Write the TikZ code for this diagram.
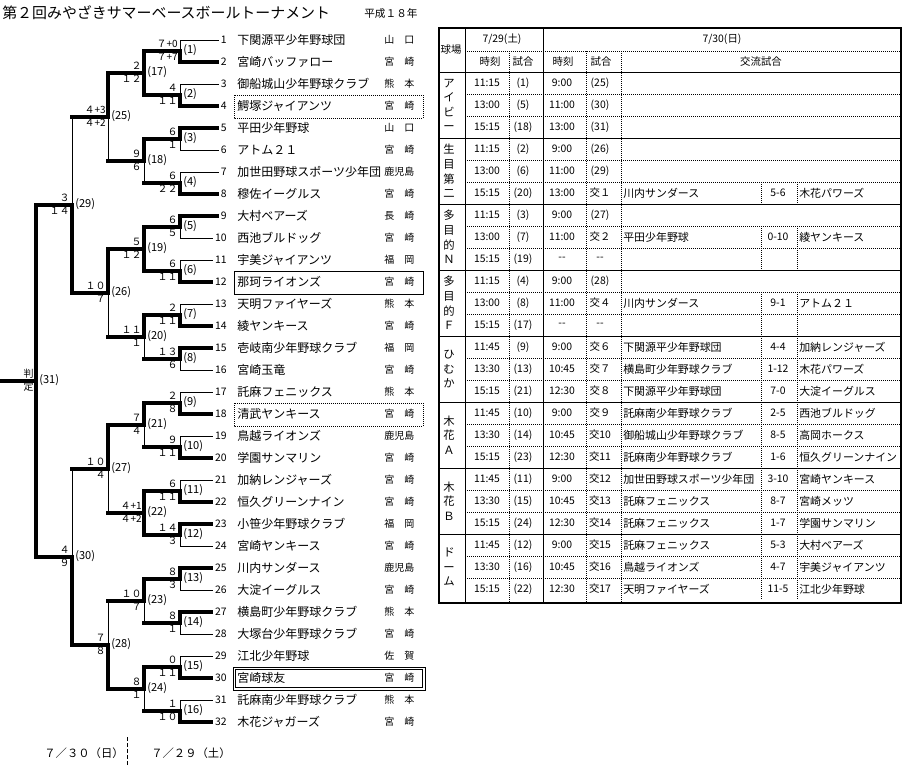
\documentclass[tikz,border=0pt]{standalone}
\usepackage{fontspec}
\setmainfont{Noto Sans CJK JP}
\newcommand\gm[8]{%
  \pgfmathsetmacro\gmM{(#2+#3)/2}%
  \draw[#4] (#1,#2) -- (#1,\gmM);
  \draw[#5] (#1,\gmM) -- (#1,#3);
  \draw[tk] (#1-36,\gmM) -- (#1,\gmM);
  \node[gl] (g#6) at (#1+3,\gmM-1) {(#6)};
  \node[sc] (gu#6) at (#1-2,\gmM-7) {#7};
  \node[sc] (gd#6) at (#1-2,\gmM+6) {#8};
}
\begin{document}
\begin{tikzpicture}[x=0.75pt,y=-0.75pt,
  tn/.style={line width=0.75pt,line cap=rect},
  tk/.style={line width=3pt,line cap=rect},
  lfn/.style={line width=0.75pt},
  lfk/.style={line width=3pt},
  dt/.style={line width=0.75pt,dash pattern=on 0.75pt off 0.75pt},
  gl/.style={anchor=west,inner sep=0pt,font=\fontsize{8.3}{8.3}\selectfont},
  sc/.style={anchor=east,inner sep=0pt,font=\fontsize{7.5}{7.5}\selectfont},
  nm/.style={anchor=west,inner sep=0pt,font=\fontsize{9}{9}\selectfont},
  pf/.style={anchor=west,inner sep=0pt,font=\fontsize{7.5}{7.5}\selectfont},
  nb/.style={anchor=east,inner sep=1.5pt,font=\fontsize{7.8}{7.8}\selectfont},
  td/.style={inner sep=0pt,font=\fontsize{7.8}{7.8}\selectfont},
  tt/.style={anchor=west,inner sep=0pt,font=\fontsize{8.2}{8.2}\selectfont},
  hd/.style={inner sep=0pt,font=\fontsize{7.8}{7.8}\selectfont},
  vn/.style={inner sep=0pt,align=center,font=\fontsize{8.5}{10.9}\selectfont}]
\useasboundingbox (0,0) rectangle (918,783);

% title
\node[anchor=west,inner sep=0pt,font=\fontsize{11.2}{11.2}\selectfont] (title) at (2,13) {第２回みやざきサマーベースボールトーナメント};
\node[anchor=west,inner sep=0pt,font=\fontsize{8}{8}\selectfont] (year) at (364,13) {平成１８年};

% teams
\foreach \i/\nm/\pf/\w in {
 1/下関源平少年野球団/山　口/lfn, 2/宮崎バッファロー/宮　崎/lfk,
 3/御船城山少年野球クラブ/熊　本/lfn, 4/鰐塚ジャイアンツ/宮　崎/lfk,
 5/平田少年野球/山　口/lfk, 6/アトム２１/宮　崎/lfn,
 7/加世田野球スポーツ少年団/鹿児島/lfn, 8/穆佐イーグルス/宮　崎/lfk,
 9/大村ベアーズ/長　崎/lfk, 10/西池ブルドッグ/宮　崎/lfn,
 11/宇美ジャイアンツ/福　岡/lfn, 12/那珂ライオンズ/宮　崎/lfk,
 13/天明ファイヤーズ/熊　本/lfn, 14/綾ヤンキース/宮　崎/lfk,
 15/壱岐南少年野球クラブ/福　岡/lfk, 16/宮崎玉竜/宮　崎/lfn,
 17/託麻フェニックス/熊　本/lfn, 18/清武ヤンキース/宮　崎/lfk,
 19/鳥越ライオンズ/鹿児島/lfn, 20/学園サンマリン/宮　崎/lfk,
 21/加納レンジャーズ/宮　崎/lfn, 22/恒久グリーンナイン/宮　崎/lfk,
 23/小笹少年野球クラブ/福　岡/lfk, 24/宮崎ヤンキース/宮　崎/lfn,
 25/川内サンダース/鹿児島/lfk, 26/大淀イーグルス/宮　崎/lfn,
 27/横島町少年野球クラブ/熊　本/lfk, 28/大塚台少年野球クラブ/宮　崎/lfn,
 29/江北少年野球/佐　賀/lfn, 30/宮崎球友/宮　崎/lfk,
 31/託麻南少年野球クラブ/熊　本/lfn, 32/木花ジャガーズ/宮　崎/lfk}{
  \pgfmathsetmacro\ty{40+22*(\i-1)}
  \node[nb] (n\i) at (229,\ty) {\i};
  \node[nm] (t\i) at (237,\ty) {\nm};
  \node[pf] (p\i) at (384,\ty) {\pf};
  \draw[\w] (180,\ty) -- (n\i.west);
}

% boxes
\draw[dt] (234,95) rectangle (423,118);
\draw[line width=0.75pt] (234,271) rectangle (423,294);
\draw[dt] (234,403) rectangle (423,426);
\draw[line width=0.75pt] (233,667) rectangle (425,690);
\draw[line width=0.75pt] (235.5,669.5) rectangle (422.5,687.5);

% bracket
\gm{180}{40}{62}{tn}{tk}{1}{７+0}{７+7}
\gm{180}{84}{106}{tn}{tk}{2}{４}{１１}
\gm{180}{128}{150}{tk}{tn}{3}{６}{１}
\gm{180}{172}{194}{tn}{tk}{4}{６}{２２}
\gm{180}{216}{238}{tk}{tn}{5}{６}{５}
\gm{180}{260}{282}{tn}{tk}{6}{６}{１１}
\gm{180}{304}{326}{tn}{tk}{7}{２}{１１}
\gm{180}{348}{370}{tk}{tn}{8}{１３}{６}
\gm{180}{392}{414}{tn}{tk}{9}{２}{８}
\gm{180}{436}{458}{tn}{tk}{10}{９}{１１}
\gm{180}{480}{502}{tn}{tk}{11}{６}{１１}
\gm{180}{524}{546}{tk}{tn}{12}{１４}{３}
\gm{180}{568}{590}{tk}{tn}{13}{８}{３}
\gm{180}{612}{634}{tk}{tn}{14}{８}{１}
\gm{180}{656}{678}{tn}{tk}{15}{０}{１１}
\gm{180}{700}{722}{tn}{tk}{16}{１}{１０}
\gm{144}{51}{95}{tk}{tk}{17}{２}{１２}
\gm{144}{139}{183}{tk}{tn}{18}{９}{６}
\gm{144}{227}{271}{tk}{tk}{19}{５}{１２}
\gm{144}{315}{359}{tk}{tn}{20}{１１}{１}
\gm{144}{403}{447}{tk}{tn}{21}{７}{４}
\gm{144}{491}{535}{tk}{tk}{22}{４+1}{４+2}
\gm{144}{579}{623}{tk}{tn}{23}{１０}{７}
\gm{144}{667}{711}{tk}{tn}{24}{８}{１}
\gm{108}{73}{161}{tk}{tn}{25}{４+3}{４+2}
\gm{108}{249}{337}{tk}{tn}{26}{１０}{７}
\gm{108}{425}{513}{tk}{tn}{27}{１０}{４}
\gm{108}{601}{689}{tn}{tk}{28}{７}{８}
\gm{72}{117}{293}{tn}{tk}{29}{３}{１４}
\gm{72}{469}{645}{tn}{tk}{30}{４}{９}
\gm{36}{205}{557}{tk}{tk}{31}{判}{定}

% dates
\node[anchor=east,inner sep=0pt,font=\fontsize{8.5}{8.5}\selectfont] (d30) at (124,753) {７／３０（日）};
\node[anchor=west,inner sep=0pt,font=\fontsize{8.5}{8.5}\selectfont] (d29) at (151,753) {７／２９（土）};
\draw[line width=0.75pt,dash pattern=on 3pt off 1.5pt] (127,737) -- (127,767);

% table frame
\draw[line width=1.5pt] (438.5,28) rectangle (901,602.5);
\draw[tn] (465,28) -- (465,602);
\draw[tn] (543,28) -- (543,602);
\draw[dt] (509,51) -- (509,602);
\draw[dt] (586,51) -- (586,602);
\draw[dt] (621,51) -- (621,602);
\draw[dt] (465,51) -- (901,51);
\draw[tn] (438.5,72) -- (901,72);
\foreach \j in {1,...,7} \draw[tn] (438.5,72+66*\j) -- (901,72+66*\j);
\foreach \j in {0,...,7} \foreach \k in {1,2} \draw[dt] (465,72+66*\j+22*\k) -- (901,72+66*\j+22*\k);
\foreach \r in {5,7,8,10,11,12,13,14,15,16,17,18,19,20,21,22,23} {
  \draw[dt] (761,72+22*\r) -- (761,94+22*\r);
  \draw[dt] (797,72+22*\r) -- (797,94+22*\r);
}

% header
\node[hd] (h0) at (451,50) {球場};
\node[hd] (h1) at (502,39) {7/29(土)};
\node[hd] (h2) at (722,39) {7/30(日)};
\node[hd] (h3) at (490,62) {時刻};
\node[hd] (h4) at (523,62) {試合};
\node[hd] (h5) at (563,62) {時刻};
\node[hd] (h6) at (601,62) {試合};
\node[hd] (h7) at (761,62) {交流試合};

% venues
\node[vn] (v1) at (449,105) {ア\\イ\\ビ\\ー};
\node[vn] (v2) at (449,171) {生\\目\\第\\二};
\node[vn] (v3) at (449,237) {多\\目\\的\\Ｎ};
\node[vn] (v4) at (449,303) {多\\目\\的\\Ｆ};
\node[vn] (v5) at (449,369) {ひ\\む\\か};
\node[vn] (v6) at (449,435) {木\\花\\Ａ};
\node[vn] (v7) at (449,501) {木\\花\\Ｂ};
\node[vn] (v8) at (449,567) {ド\\ー\\ム};

% rows
\foreach \r/\ta/\ga/\tb/\gb/\A/\s/\B in {
 0/11:15/(1)/9:00/(25)/{}/{}/{},
 1/13:00/(5)/11:00/(30)/{}/{}/{},
 2/15:15/(18)/13:00/(31)/{}/{}/{},
 3/11:15/(2)/9:00/(26)/{}/{}/{},
 4/13:00/(6)/11:00/(29)/{}/{}/{},
 5/15:15/(20)/13:00/交１/川内サンダース/5-6/木花パワーズ,
 6/11:15/(3)/9:00/(27)/{}/{}/{},
 7/13:00/(7)/11:00/交２/平田少年野球/0-10/綾ヤンキース,
 8/15:15/(19)/-{}-/-{}-/{}/{}/{},
 9/11:15/(4)/9:00/(28)/{}/{}/{},
 10/13:00/(8)/11:00/交４/川内サンダース/9-1/アトム２１,
 11/15:15/(17)/-{}-/-{}-/{}/{}/{},
 12/11:45/(9)/9:00/交６/下関源平少年野球団/4-4/加納レンジャーズ,
 13/13:30/(13)/10:45/交７/横島町少年野球クラブ/1-12/木花パワーズ,
 14/15:15/(21)/12:30/交８/下関源平少年野球団/7-0/大淀イーグルス,
 15/11:45/(10)/9:00/交９/託麻南少年野球クラブ/2-5/西池ブルドッグ,
 16/13:30/(14)/10:45/交10/御船城山少年野球クラブ/8-5/高岡ホークス,
 17/15:15/(23)/12:30/交11/託麻南少年野球クラブ/1-6/恒久グリーンナイン,
 18/11:45/(11)/9:00/交12/加世田野球スポーツ少年団/3-10/宮崎ヤンキース,
 19/13:30/(15)/10:45/交13/託麻フェニックス/8-7/宮崎メッツ,
 20/15:15/(24)/12:30/交14/託麻フェニックス/1-7/学園サンマリン,
 21/11:45/(12)/9:00/交15/託麻フェニックス/5-3/大村ベアーズ,
 22/13:30/(16)/10:45/交16/鳥越ライオンズ/4-7/宇美ジャイアンツ,
 23/15:15/(22)/12:30/交17/天明ファイヤーズ/11-5/江北少年野球}{
  \node[td] (ra\r) at (487,83+22*\r) {\ta};
  \node[td] (rb\r) at (523,83+22*\r) {\ga};
  \node[td] (rc\r) at (562,83+22*\r) {\tb};
  \node[td] (rd\r) at (600,83+22*\r) {\gb};
  \node[tt] (re\r) at (623,83+22*\r) {\A};
  \node[td] (rf\r) at (778,83+22*\r) {\s};
  \node[tt] (rg\r) at (799,83+22*\r) {\B};
}
\end{tikzpicture}
\end{document}
